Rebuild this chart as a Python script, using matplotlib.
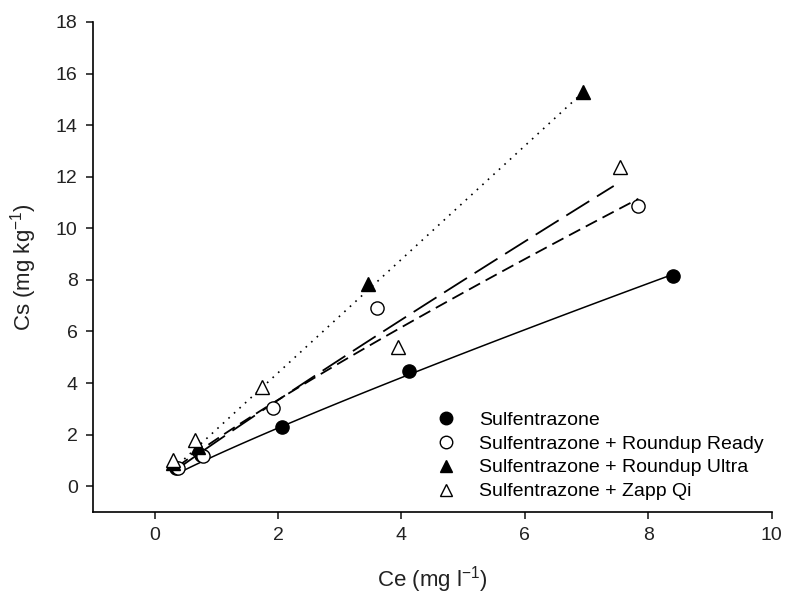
import numpy as np
import matplotlib

matplotlib.use("agg")
import matplotlib.pyplot as plt
from matplotlib.lines import Line2D

plt.rcParams["font.family"] = ["Liberation Sans", "DejaVu Sans"]
plt.rcParams["mathtext.fontset"] = "custom"
plt.rcParams["mathtext.rm"] = "Liberation Sans"
plt.rcParams["mathtext.it"] = "Liberation Sans"

# values
sulf_x = [0.35, 0.75, 2.06, 4.12, 8.40]
sulf_y = [0.70, 1.20, 2.30, 4.45, 8.15]

ready_x = [0.37, 0.78, 1.91, 3.61, 7.84]
ready_y = [0.72, 1.17, 3.05, 6.92, 10.85]

ultra_x = [0.30, 0.70, 3.45, 6.95]
ultra_y = [0.90, 1.52, 7.85, 15.30]

zapp_x = [0.30, 0.65, 1.74, 3.94, 7.54]
zapp_y = [1.00, 1.80, 3.85, 5.38, 12.38]

# Freundlich fits Cs = Kf * Ce^n
fit_kf = [1.21, 1.82, 2.20, 1.73]
fit_n = [0.90, 0.88, 1.00, 0.95]

labels = [
    "Sulfentrazone",
    "Sulfentrazone + Roundup Ready",
    "Sulfentrazone + Roundup Ultra",
    "Sulfentrazone + Zapp Qi",
]

fig = plt.figure(figsize=(7.85, 5.94), dpi=100)
ax = fig.add_axes([0.1185, 0.138, 0.8645, 0.825])

series = [
    (sulf_x, sulf_y, "o", "black", "-", 1.1),
    (ready_x, ready_y, "o", "white", (0, (7, 3.5)), 1.3),
    (ultra_x, ultra_y, "^", "black", (0, (1, 3.5)), 1.2),
    (zapp_x, zapp_y, "^", "white", (0, (15, 5)), 1.3),
]

handles = []
for (xs, ys, mk, fc, ls, lw), kf, n in zip(series, fit_kf, fit_n):
    x_end = max(xs)
    if fc == "white" and mk == "^":
        x_end -= 0.1  # the long dash stops a little short of the last point
    xx = np.linspace(min(xs), x_end, 100)
    ax.plot(xx, kf * xx ** n, color="black", linestyle=ls, linewidth=lw, zorder=2)
    ax.plot(xs, ys, linestyle="none", marker=mk, markersize=9.5,
            markerfacecolor=fc, markeredgecolor="black", markeredgewidth=1.0, zorder=3)
    handles.append(Line2D([], [], linestyle="none", marker=mk, markersize=9,
                          markerfacecolor=fc, markeredgecolor="black", markeredgewidth=1.0))

ax.set_xlim(-1, 10)
ax.set_ylim(-1, 18)
ax.set_xticks([0, 2, 4, 6, 8, 10])
ax.set_yticks(range(0, 19, 2))
for s in ["top", "right"]:
    ax.spines[s].set_visible(False)
for s in ["left", "bottom"]:
    ax.spines[s].set_linewidth(1.2)
ax.tick_params(direction="out", length=5, width=1.2, labelsize=14, pad=6, colors="#222222")

ax.set_xlabel("Ce (mg l$^{-1}$)", fontsize=16, labelpad=14, color="#222222")
ax.set_ylabel("Cs (mg kg$^{-1}$)", fontsize=16, labelpad=12, color="#222222")

ax.legend(handles, labels, loc="lower left", bbox_to_anchor=(0.48, 0.008),
          frameon=False, fontsize=14, handletextpad=0.7, labelspacing=0.32,
          borderaxespad=0)

fig.savefig("out.png", dpi=100)
